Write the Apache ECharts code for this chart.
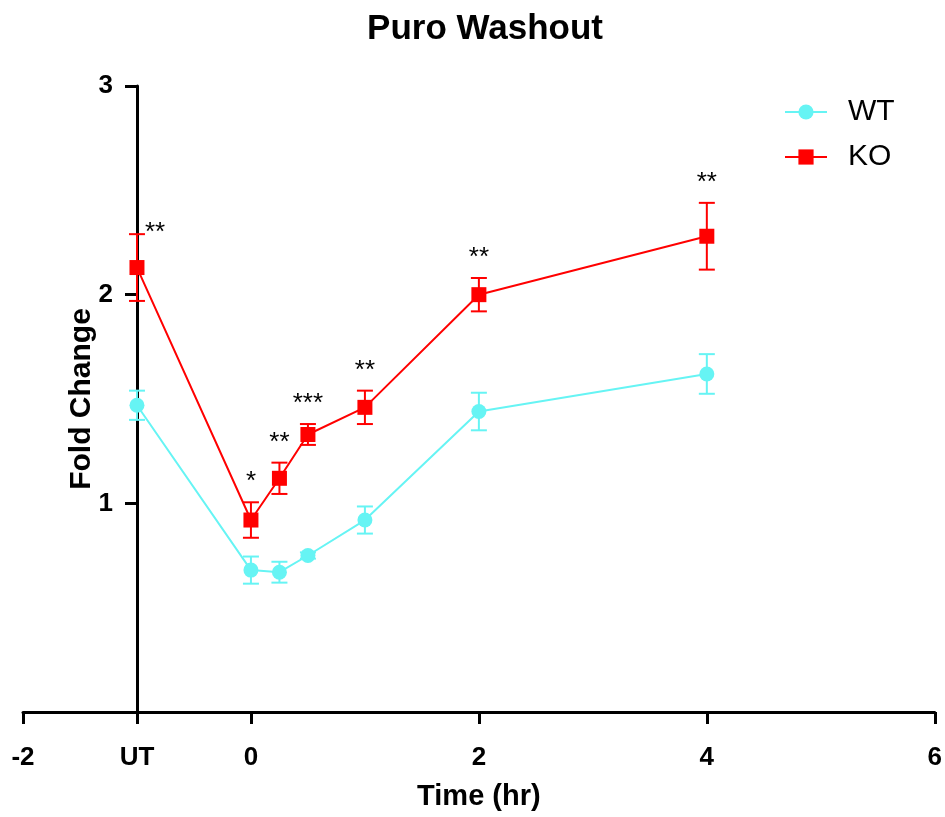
<!DOCTYPE html>
<html>
<head>
<meta charset="utf-8">
<script src="https://cdn.jsdelivr.net/npm/echarts@6/dist/echarts.min.js"></script>
<style>html,body{margin:0;padding:0;background:#fff}#c{width:945px;height:817px}</style>
</head>
<body>
<div id="c"></div>
<script>
const xValues = [-1, 0, 0.25, 0.5, 1, 2, 4];
const wtMean = [1.47, 0.68, 0.67, 0.75, 0.92, 1.44, 1.62];
const wtErr  = [0.07, 0.065, 0.05, 0.015, 0.065, 0.09, 0.095];
const koMean = [2.13, 0.92, 1.12, 1.33, 1.46, 2.00, 2.28];
const koErr  = [0.16, 0.085, 0.075, 0.05, 0.08, 0.08, 0.16];
const stars  = ['**', '*', '**', '***', '**', '**', '**'];
const xTicks = [-2, -1, 0, 2, 4, 6];
const xTickLabels = ['-2', 'UT', '0', '2', '4', '6'];
const yTicks = [1, 2, 3];

const WT_COLOR = '#66F4F4';
const KO_COLOR = '#FF0000';
const FONT = 'Liberation Sans, Arial, sans-serif';

function pts(mean) { return xValues.map((x, i) => [x, mean[i]]); }
function errData(mean, err) { return xValues.map((x, i) => [x, mean[i] - err[i], mean[i] + err[i]]); }

function errRender(color) {
  return function (params, api) {
    const x = api.value(0);
    const lo = api.coord([x, api.value(1)]);
    const hi = api.coord([x, api.value(2)]);
    const hw = 8;
    const style = { stroke: color, lineWidth: 2 };
    return {
      type: 'group',
      children: [
        { type: 'line', shape: { x1: lo[0], y1: lo[1], x2: hi[0], y2: hi[1] }, style },
        { type: 'line', shape: { x1: lo[0] - hw, y1: lo[1], x2: lo[0] + hw, y2: lo[1] }, style },
        { type: 'line', shape: { x1: hi[0] - hw, y1: hi[1], x2: hi[0] + hw, y2: hi[1] }, style }
      ]
    };
  };
}

const starData = xValues.map((x, i) => [x, koMean[i] + koErr[i], stars[i], i === 0 ? 1 : 0]);

const chart = echarts.init(document.getElementById('c'));
chart.setOption({
  animation: false,
  title: {
    text: 'Puro Washout', left: 480, top: 7, textAlign: 'center',
    textStyle: { fontFamily: FONT, fontSize: 35, fontWeight: 'bold', color: '#000' }
  },
  legend: {
    data: ['WT', 'KO'], orient: 'vertical', left: 779, top: 92,
    itemWidth: 42, itemHeight: 19, itemGap: 15,
    textStyle: { fontFamily: FONT, fontSize: 30, color: '#000', padding: [0, 0, 0, 16] }
  },
  grid: { left: 23, right: 10, top: 86, bottom: 105, containLabel: false },
  xAxis: {
    type: 'value', min: -2, max: 6,
    name: 'Time (hr)', nameLocation: 'middle', nameGap: 70, nameMoveOverlap: false,
    nameTextStyle: { fontFamily: FONT, fontSize: 29, fontWeight: 'bold', color: '#000' },
    axisLine: { lineStyle: { color: '#000', width: 3 } },
    axisTick: { show: true, customValues: xTicks, length: 12, lineStyle: { color: '#000', width: 3 } },
    axisLabel: {
      customValues: xTicks, margin: 33,
      fontFamily: FONT, fontSize: 26, fontWeight: 'bold', color: '#000',
      formatter: v => { const k = xTicks.indexOf(v); return k >= 0 ? xTickLabels[k] : ''; }
    },
    splitLine: { show: false }
  },
  yAxis: {
    type: 'value', min: 0, max: 3, offset: -114,
    name: 'Fold Change', nameLocation: 'middle', nameGap: 40, nameRotate: 90, nameMoveOverlap: false,
    nameTextStyle: { fontFamily: FONT, fontSize: 30, fontWeight: 'bold', color: '#000' },
    axisLine: { show: true, onZero: false, lineStyle: { color: '#000', width: 3 } },
    axisTick: { show: true, customValues: yTicks, length: 12, lineStyle: { color: '#000', width: 3 } },
    axisLabel: {
      customValues: yTicks, margin: 24,
      fontFamily: FONT, fontSize: 26, fontWeight: 'bold', color: '#000'
    },
    splitLine: { show: false }
  },
  series: [
    {
      name: 'WT', type: 'line', data: pts(wtMean), z: 5,
      symbol: 'circle', symbolSize: 15, showAllSymbol: true,
      itemStyle: { color: WT_COLOR }, lineStyle: { color: WT_COLOR, width: 2 }
    },
    {
      name: 'KO', type: 'line', data: pts(koMean), z: 6,
      symbol: 'rect', symbolSize: 15, showAllSymbol: true,
      itemStyle: { color: KO_COLOR }, lineStyle: { color: KO_COLOR, width: 2 }
    },
    {
      type: 'custom', data: errData(wtMean, wtErr), z: 3,
      renderItem: errRender(WT_COLOR), encode: { x: 0, y: [1, 2] }, silent: true
    },
    {
      type: 'custom', data: errData(koMean, koErr), z: 4,
      renderItem: errRender(KO_COLOR), encode: { x: 0, y: [1, 2] }, silent: true
    },
    {
      type: 'custom', data: starData, z: 7, silent: true,
      encode: { x: 0, y: 1 },
      renderItem: function (params, api) {
        const c = api.coord([api.value(0), api.value(1)]);
        const side = api.value(3) === 1;
        return {
          type: 'text',
          style: {
            text: starData[params.dataIndex][2],
            x: side ? c[0] + 8 : c[0],
            y: side ? c[1] + 12 : c[1] - 7,
            textAlign: side ? 'left' : 'center',
            textVerticalAlign: 'bottom',
            fontFamily: FONT, fontSize: 26, fill: '#000'
          }
        };
      }
    }
  ]
});
</script>
</body>
</html>
